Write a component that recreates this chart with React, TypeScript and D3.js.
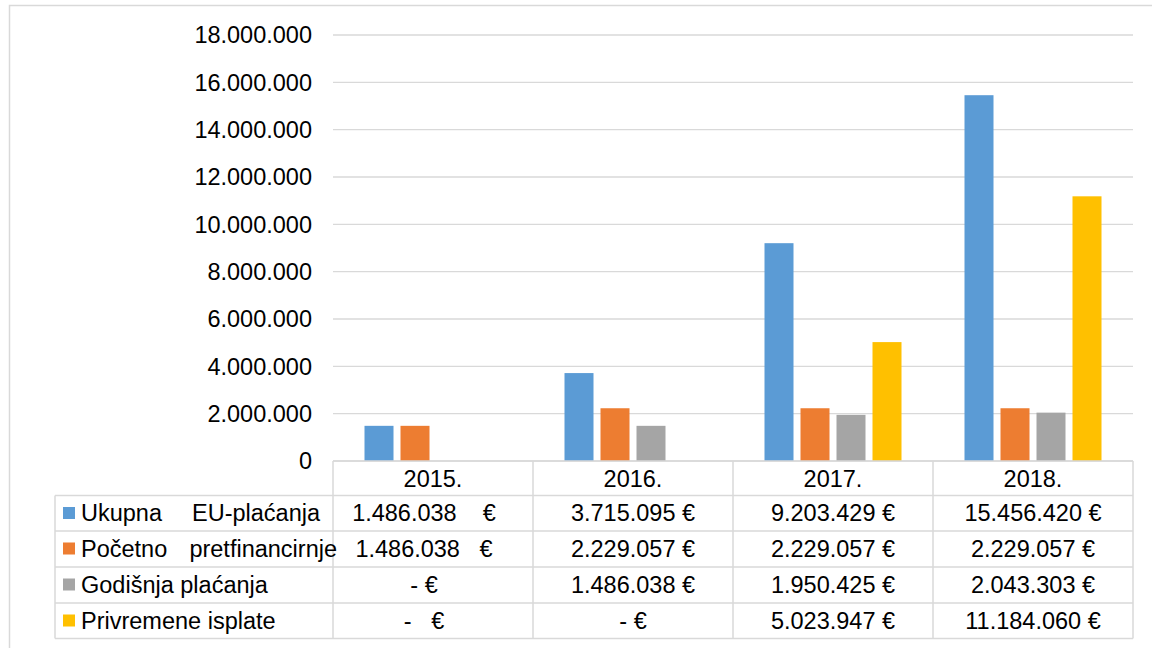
import React from "react";
import * as d3 from "d3";

const years = ["2015.", "2016.", "2017.", "2018."];
const seriesNames = ["Ukupna EU-plaćanja", "Početno pretfinancirnje", "Godišnja plaćanja", "Privremene isplate"];
const seriesColors = ["#5B9BD5", "#ED7D31", "#A5A5A5", "#FFC000"];
const ukupna = [1486038, 3715095, 9203429, 15456420];
const pocetno = [1486038, 2229057, 2229057, 2229057];
const godisnja = [0, 1486038, 1950425, 2043303];
const privremene = [0, 0, 5023947, 11184060];
const seriesValues = [ukupna, pocetno, godisnja, privremene];
const yTicks = [0, 2000000, 4000000, 6000000, 8000000, 10000000, 12000000, 14000000, 16000000, 18000000];

const W = 1152;
const H = 648;
const plotLeft = 333;
const plotRight = 1133;
const plotTop = 35;
const plotBottom = 461;
const rowTops = [461, 495.5, 531, 567, 603, 638.5];
const tableLeft = 55;
const gridColor = "#D9D9D9";
const font = "'Liberation Sans', Arial, sans-serif";
const fs = 23.5;

const locale = d3.formatLocale({ decimal: ",", thousands: ".", grouping: [3], currency: ["", "€"] });
const fmt = locale.format(",d");

// extra spacing of the first column cells (Excel accounting format quirks)
const firstColSpaces = [4, 3, 1, 3];

export default function App() {
  const y = d3.scaleLinear().domain([0, 18000000]).range([plotBottom, plotTop]);
  const x0 = d3.scaleBand<string>().domain(years).range([plotLeft, plotRight]).padding(0);
  const groupW = 137;
  const x1 = d3.scaleBand<string>().domain(seriesNames).range([0, groupW]).paddingInner(7 / 36).paddingOuter(0);
  const groupOffset = (x0.bandwidth() - groupW) / 2;

  const cellLabel = (v: number, col: number, row: number) => {
    const num = v === 0 ? "-" : fmt(v);
    const sp = col === 0 ? " ".repeat(firstColSpaces[row]) : " ";
    return num + sp + "€";
  };

  return (
    <svg width={W} height={H} style={{ position: "absolute", left: 0, top: 0, background: "#fff" }} fontFamily={font}>
      <rect x={0} y={0} width={W} height={H} fill="#fff" />
      <rect x={9.5} y={5.5} width={W + 20} height={H + 20} fill="none" stroke={gridColor} strokeWidth={1.5} />

      {/* gridlines & y labels */}
      {yTicks.map((t) => (
        <g key={t}>
          <line x1={plotLeft} x2={plotRight} y1={y(t)} y2={y(t)} stroke={gridColor} strokeWidth={1.4} />
          <text x={312} y={y(t)} dy="0.35em" textAnchor="end" fontSize={fs} fill="#000">
            {fmt(t)}
          </text>
        </g>
      ))}

      {/* bars */}
      {years.map((yr, ci) => (
        <g key={yr} transform={`translate(${(x0(yr) as number) + groupOffset},0)`}>
          {seriesNames.map((s, si) => {
            const v = seriesValues[si][ci];
            if (!v) return null;
            return (
              <rect
                key={s}
                x={x1(s)}
                y={y(v)}
                width={x1.bandwidth()}
                height={y(0) - y(v)}
                fill={seriesColors[si]}
              />
            );
          })}
        </g>
      ))}

      {/* data table */}
      <g stroke={gridColor} strokeWidth={1.5} fill="none">
        <line x1={plotLeft} x2={plotRight} y1={rowTops[0]} y2={rowTops[0]} />
        {rowTops.slice(1).map((r) => (
          <line key={r} x1={tableLeft} x2={plotRight} y1={r} y2={r} />
        ))}
        <line x1={tableLeft} x2={tableLeft} y1={rowTops[1]} y2={rowTops[5]} />
        {years.map((yr) => (
          <line key={yr} x1={x0(yr)} x2={x0(yr)} y1={rowTops[0]} y2={rowTops[5]} />
        ))}
        <line x1={plotRight} x2={plotRight} y1={rowTops[0]} y2={rowTops[5]} />
      </g>

      {years.map((yr) => (
        <text
          key={yr}
          x={(x0(yr) as number) + x0.bandwidth() / 2}
          y={rowTops[0] + 26}
          textAnchor="middle"
          fontSize={fs}
          fill="#000"
        >
          {yr}
        </text>
      ))}

      {seriesNames.map((s, si) => {
        const top = rowTops[si + 1];
        const base = top + 25.5;
        const words = s.split(" ");
        return (
          <g key={s}>
            <rect x={63} y={top + 11.5} width={12} height={12} fill={seriesColors[si]} />
            {si < 2 ? (
              <>
                <text x={81} y={base} fontSize={fs} fill="#000">
                  {words[0]}
                </text>
                <text x={si === 0 ? 320 : 337} y={base} fontSize={fs} fill="#000" textAnchor="end">
                  {words[1]}
                </text>
              </>
            ) : (
              <text x={81} y={base} fontSize={fs} fill="#000">
                {s}
              </text>
            )}
            {years.map((yr, ci) => (
              <text
                key={yr}
                x={(x0(yr) as number) + x0.bandwidth() / 2 + (ci === 0 ? -9 : 0)}
                y={base}
                textAnchor="middle"
                fontSize={fs}
                fill="#000"
                style={{ whiteSpace: "pre" }}
                xmlSpace="preserve"
              >
                {cellLabel(seriesValues[si][ci], ci, si)}
              </text>
            ))}
          </g>
        );
      })}
    </svg>
  );
}
